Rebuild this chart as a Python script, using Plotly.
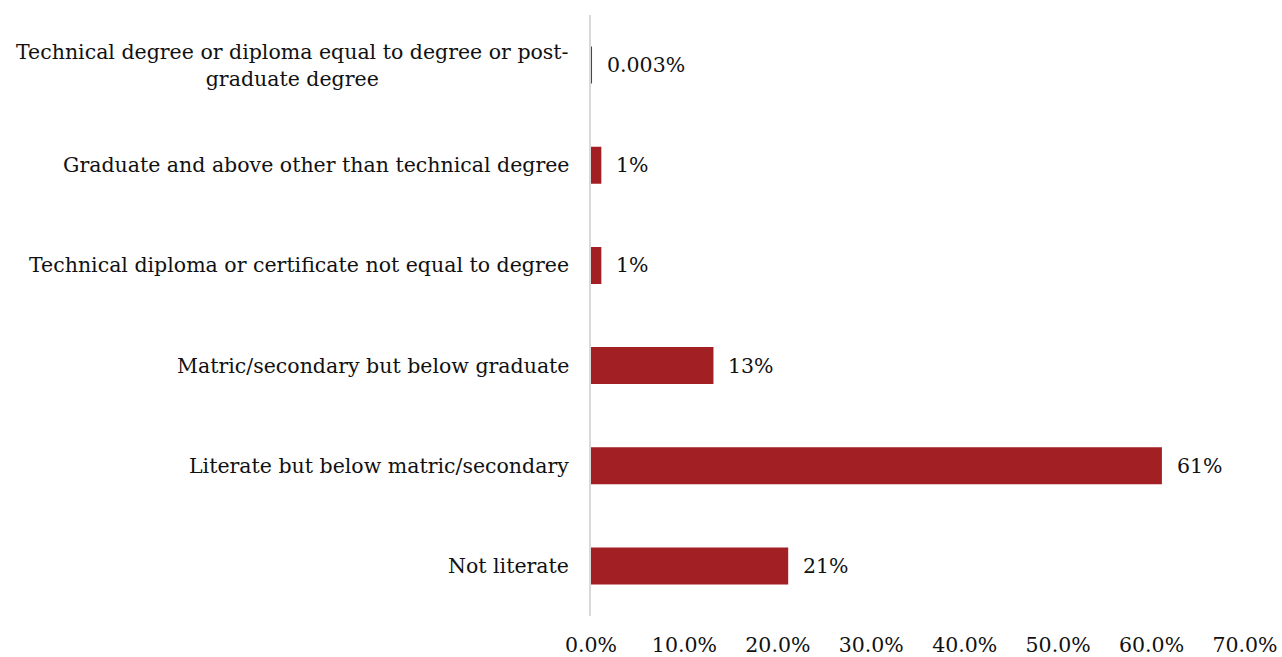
import plotly.graph_objects as go

# Education levels, listed bottom to top as drawn
categories = [
    "Not literate",
    "Literate but below matric/secondary",
    "Matric/secondary but below graduate",
    "Technical diploma or certificate not equal to degree",
    "Graduate and above other than technical degree",
    "Technical degree or diploma equal to degree or post-<br>graduate degree",
]
shares = [21, 61, 13, 1, 1, 0.003]  # percent of population
x_ticks = [0, 10, 20, 30, 40, 50, 60, 70]
x_tick_labels = [f"{t:.1f}%" for t in x_ticks]

BAR = "#a21f23"
FONT = "Georgia, 'DejaVu Serif', serif"
SIZE = 20.5

fig = go.Figure(
    go.Bar(
        x=shares,
        y=categories,
        orientation="h",
        marker=dict(color=BAR, line=dict(color=BAR, width=2)),
        hoverinfo="skip",
    )
)

# value labels to the right of each bar
for cat, v in zip(categories, shares):
    fig.add_annotation(
        x=v, y=cat, xref="x", yref="y",
        text=f"{v:g}%", showarrow=False,
        xanchor="left", xshift=14,
        font=dict(family=FONT, size=SIZE, color="#111111"),
    )

# category labels, centred line-by-line
for cat in categories:
    fig.add_annotation(
        x=0, y=cat, xref="paper", yref="y",
        text=cat, showarrow=False,
        xanchor="right", xshift=-20, align="center",
        font=dict(family=FONT, size=SIZE, color="#111111"),
    )

fig.update_layout(
    width=1282, height=657,
    margin=dict(l=591, r=37, t=15, b=41),
    paper_bgcolor="white", plot_bgcolor="white",
    bargap=0.65,
    showlegend=False,
    font=dict(family=FONT, size=SIZE, color="#111111"),
    xaxis=dict(
        range=[0, 70],
        tickvals=x_ticks, ticktext=x_tick_labels,
        showgrid=False, zeroline=False, showline=False,
        ticks="", ticklabelstandoff=14, automargin=False,
        tickfont=dict(family=FONT, size=SIZE, color="#111111"),
    ),
    yaxis=dict(
        categoryorder="array", categoryarray=categories,
        range=[-0.5, 5.5], automargin=False,
        showticklabels=False, showgrid=False, zeroline=False,
        showline=True, linecolor="#d9d9d9", linewidth=2,
        ticks="", layer="below traces",
    ),
)

fig.write_html("out.html")
